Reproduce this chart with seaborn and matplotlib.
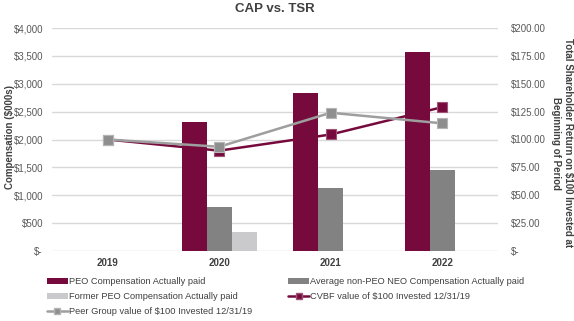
import numpy as np
import pandas as pd
import matplotlib
matplotlib.use("Agg")
import matplotlib.pyplot as plt
import seaborn as sns
from matplotlib.ticker import FuncFormatter, MultipleLocator
from matplotlib.lines import Line2D
from matplotlib.patches import Patch

# ---- data ----
years = ["2019", "2020", "2021", "2022"]
peo_cap = [np.nan, 2310, 2835, 3575]
avg_neo_cap = [np.nan, 790, 1125, 1453]
former_peo_cap = [np.nan, 335, np.nan, np.nan]
cvbf_tsr = [100, 90, 104.5, 129]
peer_tsr = [100, 93.5, 124, 114.5]

bar_series = ["PEO Compensation Actually paid",
              "Average non-PEO NEO Compensation Actually paid",
              "Former PEO Compensation Actually paid"]
line_series = ["CVBF value of $100 Invested 12/31/19",
               "Peer Group value of $100 Invested 12/31/19"]

crimson = "#770A3C"
mid_grey = "#828282"
light_grey = "#CACACC"
peer_grey = "#9E9E9E"

sns.set_theme(style="white")
plt.rcParams["font.family"] = ["Liberation Sans", "DejaVu Sans"]

W, H = 574, 321
fig = plt.figure(figsize=(W / 100, H / 100), dpi=100)
ax = fig.add_axes([52 / W, 1 - 251 / H, 446 / W, 223 / H])

bars = pd.DataFrame({
    "year": years * 3,
    "series": np.repeat(bar_series, len(years)),
    "value": peo_cap + avg_neo_cap + former_peo_cap,
})
sns.barplot(data=bars, x="year", y="value", hue="series", order=years,
            hue_order=bar_series, palette=[crimson, mid_grey, light_grey],
            width=0.67, saturation=1, errorbar=None, legend=False, ax=ax,
            linewidth=0)

ax.set_xlim(-0.5, len(years) - 0.5)
ax.set_ylim(0, 4000)
ax.yaxis.set_major_locator(MultipleLocator(500))
ax.yaxis.set_major_formatter(FuncFormatter(lambda v, p: "$-" if v == 0 else f"${v:,.0f}"))
ax.grid(axis="y", color="#D9D9D9", linewidth=1.0)
ax.set_axisbelow(True)
for s in ax.spines.values():
    s.set_visible(False)
ax.set_xlabel("")
ax.set_ylabel("")
ax.tick_params(axis="y", length=0, pad=6.5, labelsize=7, labelcolor="#595959")
ax.tick_params(axis="x", length=0, pad=5, labelsize=7, labelcolor="#404040")
for t in ax.get_xticklabels():
    t.set_fontweight("bold")

# ---- lines on secondary axis ----
ax2 = ax.twinx()
pos = list(range(len(years)))
sns.lineplot(x=pos, y=cvbf_tsr, color=crimson, marker="s", markersize=7,
             markerfacecolor=crimson, markeredgecolor="#9C5577",
             markeredgewidth=0.8, linewidth=1.8, ax=ax2)
sns.lineplot(x=pos, y=peer_tsr, color=peer_grey, marker="s", markersize=7,
             markerfacecolor="#8E8E8E", markeredgecolor="#B5B5B5",
             markeredgewidth=0.8, linewidth=1.8, ax=ax2)
ax2.set_ylim(0, 200)
ax2.set_xlim(-0.5, len(years) - 0.5)
ax2.yaxis.set_major_locator(MultipleLocator(25))
ax2.yaxis.set_major_formatter(FuncFormatter(lambda v, p: "$-" if v == 0 else f"${v:,.2f}"))
ax2.grid(False)
for s in ax2.spines.values():
    s.set_visible(False)
ax2.set_ylabel("")
ax2.tick_params(axis="y", length=0, pad=9, labelsize=7, labelcolor="#595959")

# ---- texts ----
fig.text(275 / W, 1 - 8.5 / H, "CAP vs. TSR", ha="center", va="center",
         fontsize=9.5, fontweight="bold", color="#404040")
fig.text(10 / W, 1 - 137 / H, "Compensation ($000s)", rotation=90,
         ha="center", va="center", fontsize=7, fontweight="bold", color="#404040")
fig.text(562 / W, 1 - 143 / H,
         "Total Shareholder Return on $100 Invested at\nBeginning of Period",
         rotation=270, ha="center", va="center", multialignment="center",
         fontsize=7, fontweight="bold", color="#404040", linespacing=1.15)

# ---- legend ----
h_peo = Patch(facecolor=crimson, edgecolor="none")
h_avg = Patch(facecolor=mid_grey, edgecolor="none")
h_former = Patch(facecolor=light_grey, edgecolor="none")
h_cvbf = Line2D([], [], color=crimson, lw=1.8, marker="s", markersize=4.5,
                markerfacecolor=crimson, markeredgecolor="#9C5577")
h_peer = Line2D([], [], color=peer_grey, lw=1.8, marker="s", markersize=4.5,
                markerfacecolor="#8E8E8E", markeredgecolor="#B5B5B5")
handles = [h_peo, h_former, h_peer, h_avg, h_cvbf]
labels = [bar_series[0], bar_series[2], line_series[1], bar_series[1], line_series[0]]
leg = fig.legend(handles, labels, loc="upper left",
                 bbox_to_anchor=(47 / W, 1 - 277.5 / H), ncol=2, frameon=False,
                 fontsize=6.65, handlelength=2.25, handleheight=0.55,
                 handletextpad=0.12, columnspacing=3.9, labelspacing=0.62,
                 borderpad=0, borderaxespad=0, labelcolor="#404040")

fig.savefig("out.png", dpi=100)
